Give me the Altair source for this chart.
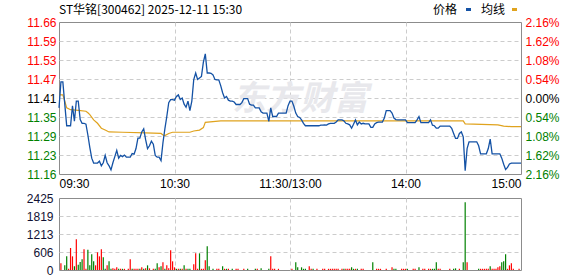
import altair as alt
import pandas as pd

prev_close = 11.41
pct_steps = [-2.16, -1.62, -1.08, -0.54, 0.0, 0.54, 1.08, 1.62, 2.16]
time_ticks = [0, 60, 120, 180, 240]
time_labels = ["09:30", "10:30", "11:30/13:00", "14:00", "15:00"]
vol_ticks = [0, 606.25, 1212.5, 1818.75, 2425]

title_text = ["ST华铭[300462] 2025-12-11 15:30"]
legend_names = ["价格", "均线"]
legend_colors = ["#1452a5", "#e0a31e"]
watermark_text = ["东方财富"]

price = [
    11.378, 11.462, 11.462, 11.39, 11.32, 11.32, 11.32, 11.385, 11.335, 11.40,
    11.40, 11.34, 11.328, 11.328, 11.325, 11.29, 11.25, 11.215, 11.199, 11.199,
    11.199, 11.205, 11.19, 11.20, 11.224, 11.20, 11.19, 11.177, 11.20, 11.22,
    11.24, 11.215, 11.224, 11.22, 11.225, 11.218, 11.218, 11.218, 11.23, 11.228,
    11.246, 11.28, 11.28, 11.30, 11.31, 11.275, 11.246, 11.255, 11.27, 11.26,
    11.224, 11.218, 11.218, 11.207, 11.265, 11.31, 11.35, 11.395, 11.405, 11.405,
    11.403, 11.415, 11.42, 11.405, 11.41, 11.39, 11.38, 11.40, 11.369, 11.40,
    11.47, 11.491, 11.47, 11.475, 11.48, 11.526, 11.553, 11.491, 11.491, 11.49,
    11.485, 11.47, 11.469, 11.469, 11.45, 11.427, 11.41, 11.415, 11.403, 11.40,
    11.40, 11.397, 11.389, 11.389, 11.389, 11.395, 11.408, 11.408, 11.408, 11.39,
    11.387, 11.387, 11.378, 11.378, 11.378, 11.365, 11.361, 11.361, 11.361, 11.334,
    11.378, 11.35, 11.35, 11.35, 11.361, 11.361, 11.361, 11.361, 11.361, 11.385,
    11.40, 11.40, 11.383, 11.361, 11.35, 11.347, 11.339, 11.328, 11.32, 11.32,
    11.32, 11.32, 11.32, 11.32, 11.32, 11.32, 11.322, 11.322, 11.323, 11.322,
    11.326, 11.328, 11.328, 11.328, 11.332, 11.339, 11.339, 11.339, 11.336, 11.328,
    11.326, 11.323, 11.312, 11.325, 11.339, 11.323, 11.332, 11.326, 11.328, 11.326,
    11.326, 11.326, 11.315, 11.315, 11.326, 11.33, 11.332, 11.332, 11.332, 11.345,
    11.369, 11.369, 11.369, 11.361, 11.345, 11.34, 11.339, 11.339, 11.339, 11.339,
    11.339, 11.33, 11.33, 11.33, 11.33, 11.33, 11.339, 11.35, 11.33, 11.33,
    11.33, 11.33, 11.33, 11.339, 11.322, 11.32, 11.312, 11.312, 11.319, 11.319,
    11.319, 11.319, 11.319, 11.319, 11.312, 11.295, 11.279, 11.279, 11.295, 11.30,
    11.284, 11.174, 11.246, 11.268, 11.268, 11.268, 11.268, 11.268, 11.255, 11.229,
    11.229, 11.229, 11.229, 11.246, 11.277, 11.229, 11.229, 11.229, 11.229, 11.229,
    11.215, 11.195, 11.178, 11.185, 11.196, 11.199, 11.199, 11.199, 11.199, 11.199,
    11.199,
]

avg_minute = [0, 2, 3, 4, 6, 10, 14, 15, 16, 18, 20, 22, 24, 26, 33, 45, 53, 54,
              55, 57, 59, 68, 70, 73, 75, 76, 84, 210, 211, 228, 231, 235, 240]
avg_value = [11.42, 11.42, 11.40, 11.378, 11.372, 11.37, 11.367, 11.362, 11.356,
             11.339, 11.328, 11.312, 11.306, 11.30, 11.299, 11.297, 11.295, 11.29,
             11.288, 11.295, 11.299, 11.299, 11.303, 11.306, 11.314, 11.331, 11.336,
             11.336, 11.326, 11.323, 11.319, 11.317, 11.317]

vol_minute = [
    1, 3, 4, 5, 6, 7, 8, 9, 10, 11, 12, 13, 14, 15, 16, 17, 18, 19, 20, 21,
    22, 23, 24, 25, 26, 27, 28, 29, 30, 31, 32, 33, 34, 36, 37, 38, 39, 40, 41, 42,
    43, 44, 45, 46, 47, 49, 50, 51, 52, 53, 54, 55, 56, 57, 58, 59, 60, 61, 62, 63,
    64, 65, 66, 67, 68, 70, 71, 72, 73, 74, 75, 76, 77, 78, 80, 82, 83, 85, 86, 87,
    88, 90, 92, 93, 96, 98, 102, 103, 105, 109, 110, 111, 112, 114,
    121, 123, 124, 126, 127, 128, 130, 131, 132, 134, 137, 138, 140, 141, 142, 143,
    144, 145, 147, 148, 149, 150, 151, 152, 153, 154, 155, 157, 158, 163, 165, 166,
    167, 170, 173, 174, 175, 178, 179, 180, 181, 184, 185, 187, 189, 190, 192, 193,
    194, 195, 196, 197, 198, 203, 205, 206, 208, 210, 211, 212, 218, 219, 220, 221,
    222, 223, 224, 225, 226, 227, 228, 229, 230, 231, 232, 233, 234, 235, 236, 239,
]
vol_value = [
    225, 157, 460, 40, 741, 460, 124, 1033, 180, 270, 360, 696, 40, 685, 157, 528, 292, 157, 595, 460,
    696, 427, 40, 157, 292, 40, 56, 40, 90, 40, 40, 40, 40, 40, 360, 40, 40, 40, 40, 40,
    90, 40, 56, 157, 56, 40, 40, 225, 90, 124, 258, 40, 157, 56, 662, 292, 90, 40, 40, 40,
    40, 157, 40, 40, 40, 191, 561, 40, 561, 40, 40, 326, 797, 124, 40, 40, 40, 124, 40, 40,
    40, 40, 40, 40, 40, 40, 40, 40, 56, 40, 460, 40, 40, 40,
    40, 258, 90, 90, 40, 40, 124, 40, 40, 40, 40, 40, 40, 40, 40, 40,
    40, 40, 40, 40, 40, 40, 40, 90, 40, 40, 40, 40, 40, 258, 40, 40,
    40, 40, 90, 40, 40, 40, 40, 40, 40, 40, 40, 90, 40, 40, 40, 40,
    40, 40, 258, 40, 40, 40, 40, 56, 40, 258, 2280, 258, 40, 40, 40, 40,
    40, 40, 124, 40, 40, 40, 90, 124, 258, 292, 528, 40, 157, 225, 40, 40,
]
vol_dir = [
    "r", "g", "g", "r", "r", "r", "g", "r", "g", "g", "g", "r", "r", "g", "g", "g", "g", "r", "r", "r",
    "r", "g", "g", "r", "g", "g", "r", "r", "r", "g", "r", "g", "r", "r", "r", "g", "r", "r", "r", "g",
    "r", "g", "r", "g", "r", "r", "g", "g", "r", "g", "r", "g", "r", "r", "r", "r", "r", "g", "r", "g",
    "r", "g", "r", "g", "g", "r", "r", "r", "g", "r", "r", "r", "g", "g", "g", "r", "r", "g", "r", "g",
    "r", "g", "r", "r", "r", "g", "g", "r", "g", "g", "r", "r", "r", "r",
    "r", "g", "g", "g", "g", "g", "r", "r", "g", "r", "r", "r", "r", "r", "r", "r",
    "r", "r", "r", "g", "r", "r", "r", "g", "g", "r", "g", "r", "r", "g", "r", "r",
    "r", "r", "r", "g", "g", "r", "r", "r", "g", "r", "r", "g", "r", "r", "r", "r",
    "g", "g", "g", "r", "r", "r", "g", "g", "r", "g", "g", "r", "g", "r", "r", "r",
    "r", "r", "g", "r", "r", "r", "r", "r", "g", "g", "g", "r", "r", "r", "r", "r",
]

RED = "#ff0000"
GREEN = "#008000"
FONT = "Liberation Sans"
CJK = "Noto Sans CJK SC"

price_df = pd.DataFrame({"m": list(range(len(price))), "p": price})
avg_df = pd.DataFrame({"m": avg_minute, "p": avg_value})
vol_df = pd.DataFrame({"m": vol_minute, "v": vol_value, "d": vol_dir})
vol_df["z"] = 0

lo = prev_close * (1 + pct_steps[0] / 100)
hi = prev_close * (1 + pct_steps[-1] / 100)
y_ticks = [prev_close * (1 + s / 100) for s in pct_steps]

x_label_expr = ""
for t, lab in zip(time_ticks, time_labels):
    x_label_expr += f"datum.value == {t} ? '{lab}' : "
x_label_expr += "''"

xscale = alt.Scale(domain=[time_ticks[0], time_ticks[-1]], nice=False, zero=False, padding=0)
yscale = alt.Scale(domain=[lo, hi], nice=False, zero=False)

grid_x = {"condition": {"test": f"datum.value <= {time_ticks[0]} || datum.value >= {time_ticks[-1]}", "value": 0}, "value": 1}
grid_y = {"condition": {"test": f"datum.value <= {lo + 0.001} || datum.value >= {hi - 0.001}", "value": 0}, "value": 1}
color_y = {
    "condition": [
        {"test": f"datum.value > {prev_close + 0.002}", "value": RED},
        {"test": f"datum.value < {prev_close - 0.002}", "value": GREEN},
    ],
    "value": "#000000",
}

x_main = alt.X("m:Q", scale=xscale, axis=alt.Axis(
    values=time_ticks, labelExpr=x_label_expr, title=None, grid=True,
    gridOpacity=grid_x, labelFlush=True, labelPadding=4, labelFontSize=12,
    labelColor="#000000", labelFont=FONT))

y_left = alt.Y("p:Q", scale=yscale, axis=alt.Axis(
    values=y_ticks, format=".2f", title=None, grid=True, gridOpacity=grid_y,
    labelColor=color_y, labelPadding=3, labelFontSize=12, labelFont=FONT))
y_right = alt.Y("p:Q", scale=yscale, axis=alt.Axis(
    orient="right", values=y_ticks, grid=False, title=None,
    labelExpr=f"format(abs(datum.value - {prev_close}) / {prev_close} * 100, '.2f') + '%'",
    labelColor=color_y, labelPadding=4, labelFontSize=12, labelFont=FONT))
y_none = alt.Y("p:Q", scale=yscale, axis=None)

# invisible anchor fixing the page's top-left corner at (-58, -21) from the plot origin
anchor = alt.Chart(pd.DataFrame({"a": [0]})).mark_rect(opacity=0).encode(
    x=alt.value(-58), x2=alt.value(0), y=alt.value(-21), y2=alt.value(0))

wm = alt.Chart(pd.DataFrame({"t": watermark_text})).mark_text(
    font=CJK, fontSize=34, fontWeight="bold", fontStyle="italic", color="#e8e8ec",
    align="center", baseline="middle"
).encode(text="t:N", x=alt.value(241), y=alt.value(78))

avg_line = alt.Chart(avg_df).mark_line(color="#e0a31e", strokeWidth=1.2).encode(
    x=x_main, y=y_none, order="m:Q")
price_line = alt.Chart(price_df).mark_line(color="#1452a5", strokeWidth=1.3).encode(
    x=x_main, y=y_left, order="m:Q")
right_axis = alt.Chart(price_df).mark_line(opacity=0).encode(x=x_main, y=y_right)

title = alt.Chart(pd.DataFrame({"t": title_text})).mark_text(
    font=CJK, fontSize=12, align="left", baseline="middle", color="#000000"
).encode(text="t:N", x=alt.value(0), y=alt.value(-12))

leg1 = alt.Chart(pd.DataFrame({"t": [legend_names[0]]})).mark_text(
    font=CJK, fontSize=12, align="left", baseline="middle", color="#000000"
).encode(text="t:N", x=alt.value(374), y=alt.value(-12))
leg2 = alt.Chart(pd.DataFrame({"t": [legend_names[1]]})).mark_text(
    font=CJK, fontSize=12, align="left", baseline="middle", color="#000000"
).encode(text="t:N", x=alt.value(422), y=alt.value(-12))
sq1 = alt.Chart(pd.DataFrame({"c": [legend_colors[0]]})).mark_rect(color=legend_colors[0]).encode(
    x=alt.value(407), x2=alt.value(412), y=alt.value(-14), y2=alt.value(-11))
sq2 = alt.Chart(pd.DataFrame({"c": [legend_colors[1]]})).mark_rect(color=legend_colors[1]).encode(
    x=alt.value(453), x2=alt.value(458), y=alt.value(-14), y2=alt.value(-11))

main = alt.layer(anchor, wm, avg_line, price_line, right_axis, title, leg1, leg2, sq1, sq2).resolve_axis(
    y="independent").properties(width=462, height=152)

grid_v = {"condition": {"test": f"datum.value <= {vol_ticks[0]} || datum.value >= {vol_ticks[-1] - 1}", "value": 0}, "value": 1}
vol = alt.Chart(vol_df).mark_rule(strokeWidth=1.2).encode(
    x=alt.X("m:Q", scale=xscale, axis=alt.Axis(values=time_ticks, labels=False, title=None,
                                               grid=True, gridOpacity=grid_x)),
    y=alt.Y("v:Q", scale=alt.Scale(domain=[vol_ticks[0], vol_ticks[-1]], nice=False),
            axis=alt.Axis(values=vol_ticks, format="d", title=None, grid=True, gridOpacity=grid_v,
                          labelPadding=6, labelFontSize=12, labelFont=FONT, labelColor="#111133")),
    y2="z:Q",
    color=alt.Color("d:N", scale=alt.Scale(domain=["r", "g"], range=[RED, GREEN]), legend=None),
).properties(width=462, height=72)

chart = alt.vconcat(main, vol, spacing=24, bounds="flush").properties(
    padding=0,
    background="#ffffff",
).configure_view(stroke="#8c8c8c", strokeWidth=1).configure_axis(
    domain=False, ticks=False, gridColor="#cccccc", gridDash=[4, 3], gridWidth=1
)

chart.save("out.html", embed_options={"renderer": "svg", "actions": False})
